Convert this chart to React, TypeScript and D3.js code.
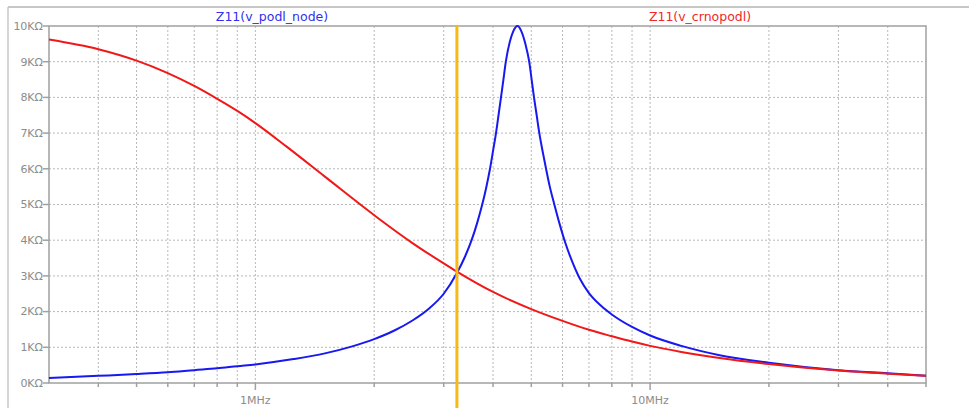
import React from "react";
import * as d3 from "d3";

// Frequency sweep points (MHz) and impedance magnitudes (kΩ)
const redFreq = [0.3, 0.4, 0.5, 0.6, 0.7, 0.8, 0.9, 1, 1.2, 1.5, 2, 2.5, 3, 3.24, 4, 5, 6, 7, 8, 9, 10, 12, 15, 20, 30, 40, 50];
const redZ = [9.62, 9.35, 9.03, 8.68, 8.32, 7.96, 7.62, 7.28, 6.62, 5.78, 4.7, 3.92, 3.35, 3.12, 2.55, 2.07, 1.74, 1.49, 1.31, 1.16, 1.04, 0.87, 0.7, 0.53, 0.35, 0.26, 0.2];

const blueFreq = [0.3, 0.4, 0.5, 0.6, 0.7, 0.8, 0.9, 1, 1.25, 1.5, 1.75, 2, 2.25, 2.5, 2.75, 3, 3.24, 3.4, 3.53, 3.65, 3.74, 3.84, 3.93, 4.0, 4.07, 4.13, 4.19, 4.25, 4.31, 4.41, 4.5, 4.615, 4.72, 4.83, 4.94, 5.01, 5.08, 5.16, 5.24, 5.34, 5.45, 5.57, 5.72, 5.9, 6.1, 6.36, 6.64, 7, 7.5, 8, 9, 10, 12, 15, 20, 30, 40, 50];
const blueZ = [0.14, 0.2, 0.25, 0.3, 0.36, 0.41, 0.47, 0.52, 0.67, 0.83, 1.02, 1.23, 1.47, 1.75, 2.08, 2.5, 3.08, 3.55, 4.0, 4.5, 4.92, 5.45, 6.0, 6.5, 7.0, 7.5, 8.0, 8.5, 9.0, 9.55, 9.85, 10.0, 9.85, 9.5, 9.0, 8.5, 8.0, 7.5, 7.0, 6.5, 6.0, 5.5, 5.0, 4.45, 3.92, 3.38, 2.92, 2.52, 2.17, 1.92, 1.57, 1.33, 1.04, 0.78, 0.57, 0.36, 0.27, 0.2];

const yTicks = [0, 1, 2, 3, 4, 5, 6, 7, 8, 9, 10];
const xLabelTicks = [1, 10];
const xLabelText = ["1MHz", "10MHz"];
const xGridTicks = [0.4, 0.5, 0.6, 0.7, 0.8, 0.9, 1, 2, 3, 4, 5, 6, 7, 8, 9, 10, 20, 30, 40];
const cursorFreq = 3.24;

const traceNames = ["Z11(v_podl_node)", "Z11(v_crnopodl)"];

const W = 969;
const H = 408;
const left = 49;
const right = 926;
const top = 26;
const bottom = 383;

export default function App() {
  const x = d3.scaleLog().domain([0.3, 50]).range([left, right]);
  const y = d3.scaleLinear().domain([0, 10]).range([bottom, top]);

  const line = d3
    .line<[number, number]>()
    .x((d) => x(d[0]))
    .y((d) => y(d[1]))
    .curve(d3.curveMonotoneX);

  const redPts = redFreq.map((f, i) => [f, redZ[i]] as [number, number]);
  const bluePts = blueFreq.map((f, i) => [f, blueZ[i]] as [number, number]);

  const gray = "#a0a0a0";
  const font = "DejaVu Sans, sans-serif";

  return (
    <svg
      width={W}
      height={H}
      style={{ position: "absolute", left: 0, top: 0, background: "#fff" }}
    >
      {/* window frame */}
      <line x1={8} x2={W} y1={7} y2={7} stroke="#b4b4b4" strokeWidth={1.5} />
      <line x1={8} x2={8} y1={7} y2={H} stroke="#c8c8c8" strokeWidth={1.5} />

      {/* grid */}
      {yTicks.slice(1, -1).map((v) => (
        <line
          key={"gy" + v}
          x1={left}
          x2={right}
          y1={y(v)}
          y2={y(v)}
          stroke="#b8b8b8"
          strokeWidth={1}
          strokeDasharray="2,2"
        />
      ))}
      {xGridTicks.map((f) => (
        <line
          key={"gx" + f}
          x1={x(f)}
          x2={x(f)}
          y1={top}
          y2={bottom}
          stroke="#b8b8b8"
          strokeWidth={1}
          strokeDasharray="2,2"
        />
      ))}

      {/* plot box */}
      <rect
        x={left}
        y={top}
        width={right - left}
        height={bottom - top}
        fill="none"
        stroke={gray}
        strokeWidth={1.5}
      />

      {/* y ticks and labels */}
      {yTicks.map((v) => (
        <g key={"ty" + v}>
          <line x1={left - 6} x2={left} y1={y(v)} y2={y(v)} stroke={gray} strokeWidth={1.5} />
          <text
            x={left - 6}
            y={y(v)}
            dy="0.35em"
            textAnchor="end"
            fontFamily={font}
            fontSize={11}
            fill="#8c8c8c"
          >
            {v + "KΩ"}
          </text>
        </g>
      ))}

      {/* x ticks */}
      {xGridTicks.concat([50]).map((f) => (
        <line
          key={"tx" + f}
          x1={x(f)}
          x2={x(f)}
          y1={bottom}
          y2={bottom + (f === 1 || f === 10 ? 7 : 4)}
          stroke={gray}
          strokeWidth={1.5}
        />
      ))}
      {xLabelTicks.map((f, i) => (
        <text
          key={"lx" + f}
          x={x(f)}
          y={400}
          dy="0.35em"
          textAnchor="middle"
          fontFamily={font}
          fontSize={11}
          fill="#8c8c8c"
        >
          {xLabelText[i]}
        </text>
      ))}

      {/* trace names */}
      <text x={272} y={17} dy="0.35em" textAnchor="middle" fontFamily={font} fontSize={12.5} fill="#3030f0">
        {traceNames[0]}
      </text>
      <text x={700} y={17} dy="0.35em" textAnchor="middle" fontFamily={font} fontSize={12.5} fill="#f02828">
        {traceNames[1]}
      </text>

      {/* traces */}
      <path d={line(bluePts) || ""} fill="none" stroke="#1818f0" strokeWidth={2} />
      <path d={line(redPts) || ""} fill="none" stroke="#f01818" strokeWidth={2} />

      {/* cursor */}
      <line
        x1={x(cursorFreq)}
        x2={x(cursorFreq)}
        y1={top}
        y2={H}
        stroke="#f7b914"
        strokeWidth={3}
      />
    </svg>
  );
}
